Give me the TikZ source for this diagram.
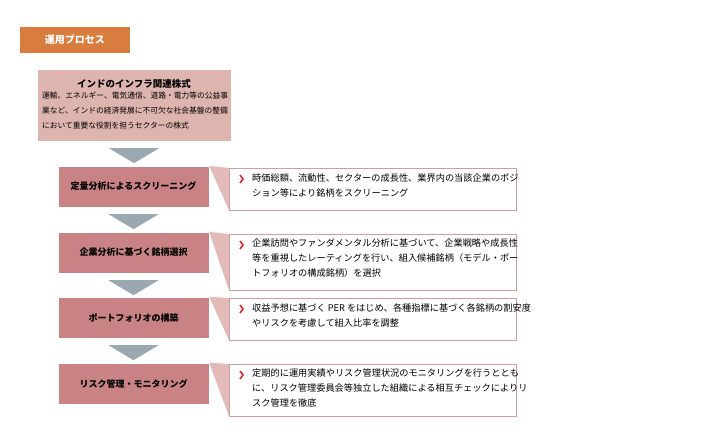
\documentclass[tikz,border=0pt]{standalone}
\usepackage{fontspec}
\setmainfont{Noto Sans CJK JP}
\usetikzlibrary{positioning,calc}
\definecolor{headorange}{HTML}{D97D3E}
\definecolor{toppink}{HTML}{DDB4AE}
\definecolor{steprose}{HTML}{C98384}
\definecolor{wedgepink}{HTML}{E2BAB7}
\definecolor{descline}{HTML}{D49C9E}
\definecolor{arrgray}{HTML}{9CA8B1}
\definecolor{chevred}{HTML}{D8262E}

\begin{document}
\begin{tikzpicture}[x=1pt,y=-1pt,
			head/.style={rectangle, fill=headorange, text=white, font=\bfseries\fontsize{10}{12}\selectfont, minimum width=110pt, minimum height=26pt},
			topbox/.style={rectangle, fill=toppink, draw=white, minimum width=194pt, minimum height=72pt, align=left, inner sep=0pt},
			stepbox/.style={rectangle, fill=steprose, draw=white, font=\bfseries\fontsize{9}{11}\selectfont, minimum width=151pt, minimum height=41pt},
			desc/.style={rectangle, fill=white, draw=descline, minimum width=287pt, anchor=north west},
			desctext/.style={anchor=north west, align=left, inner sep=0pt, font=\fontsize{9.2}{15}\selectfont},
			arr/.style={fill=arrgray},
			chev/.style={draw=chevred, line width=1.6pt}]
			\useasboundingbox (0,0) rectangle (716,444);
			\node[head] (head) at (75,40) {運用プロセス};
			\node[topbox] (top) at (134,105) {};
			\node[font=\bfseries\fontsize{9.5}{11}\selectfont] (toptitle) at (134,84) {インドのインフラ関連株式};
			\node[font=\fontsize{7.75}{15}\selectfont, align=left, anchor=north west, inner sep=0pt] (toptext) at (42,92) {運輸、エネルギー、電気通信、道路・電力等の公益事\\業など、インドの経済発展に不可欠な社会基盤の整備\\において重要な役割を担うセクターの株式};
			\node[stepbox] (step1) at (133.5,186.5) {定量分析によるスクリーニング};
			\node[stepbox] (step2) at (133.5,252.5) {企業分析に基づく銘柄選択};
			\node[stepbox] (step3) at (133.5,317.5) {ポートフォリオの構築};
			\node[stepbox] (step4) at (133.5,383.5) {リスク管理・モニタリング};
			\node[desc, minimum height=42pt] (desc1) at (229,168) {};
			\node[desc, minimum height=56pt] (desc2) at (229,234) {};
			\node[desc, minimum height=42pt] (desc3) at (229,298) {};
			\node[desc, minimum height=52pt] (desc4) at (229,364) {};
			\node[desctext] (text1) at ($(desc1.north west)+(23,5)$) {時価総額、流動性、セクターの成長性、業界内の当該企業のポジ\\ション等により銘柄をスクリーニング};
			\node[desctext] (text2) at ($(desc2.north west)+(23,5)$) {企業訪問やファンダメンタル分析に基づいて、企業戦略や成長性\\等を重視したレーティングを行い、組入候補銘柄（モデル・ポー\\トフォリオの構成銘柄）を選択};
			\node[desctext] (text3) at ($(desc3.north west)+(23,5)$) {収益予想に基づく PER をはじめ、各種指標に基づく各銘柄の割安度\\やリスクを考慮して組入比率を調整};
			\node[desctext] (text4) at ($(desc4.north west)+(23,5)$) {定期的に運用実績やリスク管理状況のモニタリングを行うととも\\に、リスク管理委員会等独立した組織による相互チェックによりリ\\スク管理を徹底};
			% wedges and red marks
			\foreach \i in {1,...,4}{
				\fill[wedgepink] (step\i.north east) -- (desc\i.north west) -- (desc\i.south west) -- cycle;
				\coordinate (c\i) at ($(desc\i.north west)+(11,11)$);
				\draw[chev] ($(c\i)+(0,-4)$) -- ($(c\i)+(3,0)$) -- ($(c\i)+(0,4)$);
			}
			% down arrows
			\fill[arr] ($(top.south)+(-25,7)$) -- ($(top.south)+(25,7)$) -- ($(top.south)+(0,22)$) -- cycle;
			\foreach \a in {1,2,3}{
				\fill[arr] ($(step\a.south)+(-25,7)$) -- ($(step\a.south)+(25,7)$) -- ($(step\a.south)+(0,22)$) -- cycle;
			}
		\end{tikzpicture}
\end{document}
